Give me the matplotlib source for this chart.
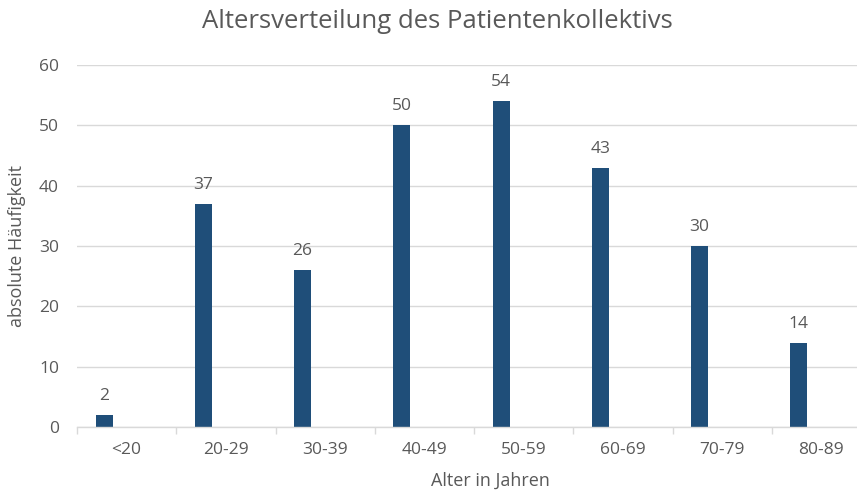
# Altersverteilung des Patientenkollektivs - bar chart
import matplotlib

matplotlib.use('Agg')
import matplotlib.pyplot as plt
import numpy as np

# data
age_groups = ['<20', '20-29', '30-39', '40-49', '50-59', '60-69', '70-79', '80-89']
counts = [2, 37, 26, 50, 54, 43, 30, 14]

TEXT_COLOR = '#595959'
BAR_COLOR = '#1f4e79'
GRID_COLOR = '#d9d9d9'

plt.rcParams['font.family'] = ['Open Sans', 'DejaVu Sans']

W, H = 857, 494
fig = plt.figure(figsize=(W / 100, H / 100), dpi=100, facecolor='w')

# plot area in pixels (right edge runs past the picture like in the original)
left, right, top, bottom = 77, 871, 65, 427
ax = fig.add_axes([left / W, 1 - bottom / H, (right - left) / W, (bottom - top) / H])

x = np.arange(len(age_groups))
bars = ax.bar(x - 0.227, counts, 0.17, color=BAR_COLOR, zorder=3)

# value labels
for xi, val in zip(x, counts):
    ax.text(xi - 0.227, val + 1.8, str(val), ha='center', va='bottom',
            fontsize=12.5, color=TEXT_COLOR)

ax.set_xlim(-0.5, len(age_groups) - 0.5)
ax.set_ylim(0, 60)
ax.set_yticks(range(0, 61, 10))
ax.yaxis.grid(True, color=GRID_COLOR, linewidth=1, zorder=0)

# category boundaries as ticks
ax.set_xticks(np.arange(-0.5, len(age_groups), 1))
ax.set_xticklabels([])
ax.set_xticks(x, minor=True)
ax.set_xticklabels(age_groups, minor=True)
ax.tick_params(axis='x', which='major', length=5, color=GRID_COLOR, width=1)
ax.tick_params(axis='x', which='minor', length=0, pad=11, labelsize=12.5, labelcolor=TEXT_COLOR)
ax.tick_params(axis='y', length=0, pad=13, labelsize=12.5, labelcolor=TEXT_COLOR)

for side in ['top', 'right', 'left']:
    ax.spines[side].set_visible(False)
ax.spines['bottom'].set_color(GRID_COLOR)
ax.spines['bottom'].set_linewidth(1)
ax.spines['bottom'].set_zorder(4)

# texts
fig.text(437 / W, 1 - 22 / H, 'Altersverteilung des Patientenkollektivs', ha='center', va='center',
         fontsize=18.5, color=TEXT_COLOR)
fig.text(490 / W, 1 - 481 / H, 'Alter in Jahren', ha='center', va='center',
         fontsize=13, color=TEXT_COLOR)
fig.text(17 / W, 1 - 246 / H, 'absolute Häufigkeit', ha='center', va='center',
         rotation=90, fontsize=13, color=TEXT_COLOR)

fig.savefig('out.png', dpi=100)
